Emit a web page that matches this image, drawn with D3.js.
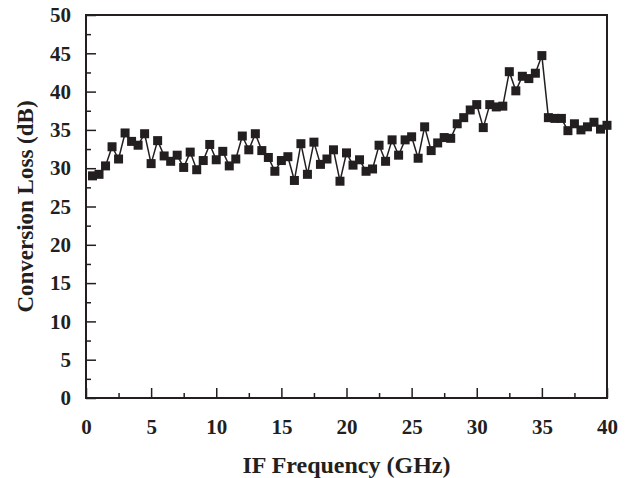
<!DOCTYPE html>
<html>
<head>
<meta charset="utf-8">
<script src="https://cdn.jsdelivr.net/npm/d3@7"></script>
<style>
  body { margin: 0; background: #fff; }
  text { font-family: "Liberation Serif", "DejaVu Serif", serif; font-weight: bold; fill: #231f20; }
</style>
</head>
<body>
<div id="chart"></div>
<script>
var svgWidth = 632;
var svgHeight = 478;

var margin = { top: 15, right: 25, bottom: 80, left: 86 };
var width = svgWidth - margin.left - margin.right;
var height = svgHeight - margin.top - margin.bottom;

// IF frequency (GHz), step 0.5
var freq = d3.range(1, 81).map(d => d * 0.5);

// conversion loss (dB)
var loss = [
  29.0, 29.2, 30.3, 32.8, 31.2, 34.6, 33.5, 33.0, 34.5, 30.6,
  33.6, 31.6, 30.9, 31.7, 30.1, 32.1, 29.8, 31.0, 33.1, 31.1,
  32.2, 30.3, 31.2, 34.2, 32.4, 34.5, 32.3, 31.4, 29.6, 31.0,
  31.5, 28.4, 33.2, 29.2, 33.4, 30.5, 31.2, 32.4, 28.3, 32.0,
  30.4, 31.1, 29.6, 29.9, 33.0, 30.9, 33.7, 31.7, 33.7, 34.1,
  31.3, 35.4, 32.3, 33.3, 34.0, 33.9, 35.8, 36.6, 37.6, 38.3,
  35.3, 38.3, 38.0, 38.1, 42.6, 40.1, 42.0, 41.7, 42.4, 44.7,
  36.6, 36.5, 36.5, 34.9, 35.8, 35.0, 35.4, 36.0, 35.1, 35.6
];

var xTicks = [0, 5, 10, 15, 20, 25, 30, 35, 40];
var yTicks = [0, 5, 10, 15, 20, 25, 30, 35, 40, 45, 50];

var data = freq.map((f, i) => ({ f: f, v: loss[i] }));

var svg = d3.select("#chart")
  .append("svg")
  .attr("width", svgWidth)
  .attr("height", svgHeight);

var chartGroup = svg.append("g")
  .attr("transform", `translate(${margin.left}, ${margin.top})`);

var x = d3.scaleLinear().domain([0, 40]).range([0, width]);
var y = d3.scaleLinear().domain([0, 50]).range([height, 0]);

// minor ticks (inward)
var xMinor = d3.axisBottom(x).tickValues(d3.range(2.5, 40, 5)).tickSize(-5).tickFormat("");
var yMinor = d3.axisLeft(y).tickValues(d3.range(2.5, 50, 5)).tickSize(-5).tickFormat("");

chartGroup.append("g")
  .attr("transform", `translate(0, ${height})`)
  .call(xMinor);
chartGroup.append("g")
  .call(yMinor);

// major ticks (inward), labels
var xAxis = chartGroup.append("g")
  .attr("transform", `translate(0, ${height})`)
  .call(d3.axisBottom(x).tickValues(xTicks).tickSize(-10).tickPadding(21));

var yAxis = chartGroup.append("g")
  .call(d3.axisLeft(y).tickValues(yTicks).tickSize(-10).tickPadding(15));

chartGroup.selectAll(".tick line")
  .attr("stroke", "#231f20")
  .attr("stroke-width", 1.5);
chartGroup.selectAll(".domain").remove();
chartGroup.selectAll(".tick text")
  .style("font-size", "21px")
  .attr("fill", "#231f20");

// frame
chartGroup.append("rect")
  .attr("x", 0)
  .attr("y", 0)
  .attr("width", width)
  .attr("height", height)
  .attr("fill", "none")
  .attr("stroke", "#231f20")
  .attr("stroke-width", 2);

// line + markers
var line = d3.line()
  .x(d => x(d.f))
  .y(d => y(d.v));

chartGroup.append("path")
  .datum(data)
  .attr("fill", "none")
  .attr("stroke", "#231f20")
  .attr("stroke-width", 1.5)
  .attr("d", line);

chartGroup.selectAll("rect.pt")
  .data(data)
  .enter()
  .append("rect")
  .attr("class", "pt")
  .attr("x", d => x(d.f) - 4.5)
  .attr("y", d => y(d.v) - 4.5)
  .attr("width", 9)
  .attr("height", 9)
  .attr("fill", "#231f20");

// axis titles
chartGroup.append("text")
  .attr("x", width / 2)
  .attr("y", height + 75)
  .attr("text-anchor", "middle")
  .style("font-size", "24px")
  .text("IF Frequency (GHz)");

chartGroup.append("text")
  .attr("transform", "rotate(-90)")
  .attr("x", -height / 2)
  .attr("y", -53)
  .attr("text-anchor", "middle")
  .style("font-size", "23px")
  .text("Conversion Loss (dB)");
</script>
</body>
</html>
